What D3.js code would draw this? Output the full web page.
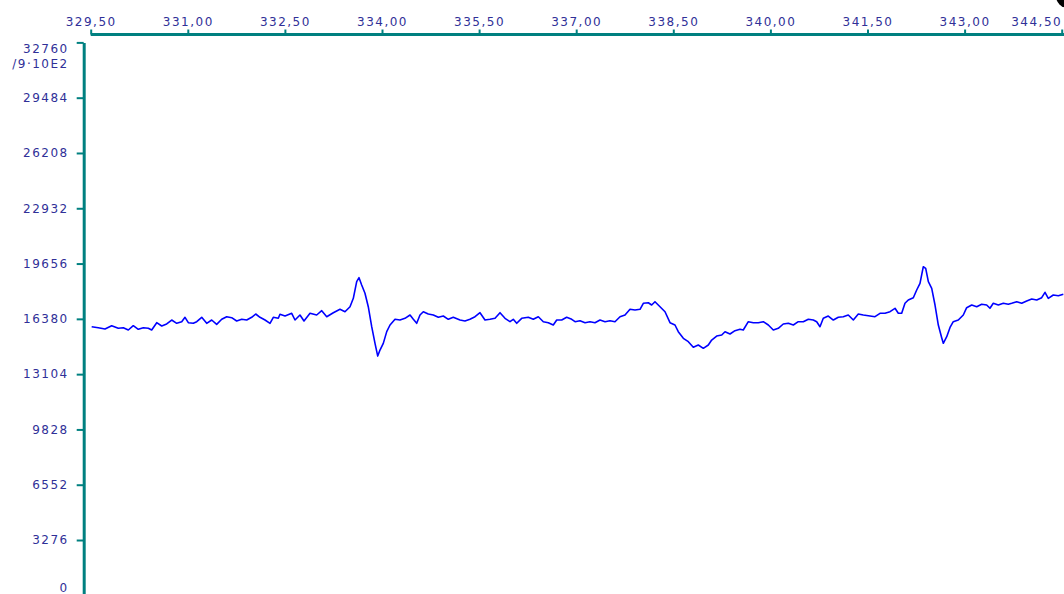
<!DOCTYPE html>
<html>
<head>
<meta charset="utf-8">
<script src="https://cdn.jsdelivr.net/npm/d3@7"></script>
<style>
  html, body { margin: 0; padding: 0; background: #fff; overflow: hidden; }
  text { font-family: "DejaVu Sans", Verdana, sans-serif; font-size: 12px; fill: #303098; letter-spacing: 1.5px; }
</style>
</head>
<body>
<svg id="chart" width="1064" height="594"></svg>
<script>
// magnetic field (top axis) and signal intensity
let field = [329.515,329.617,329.721,329.824,329.926,330.004,330.081,330.158,330.235,330.313,330.390,330.442,
  330.520,330.597,330.674,330.751,330.829,330.906,330.957,331.008,331.085,331.138,331.215,331.292,331.369,331.446,
  331.524,331.601,331.678,331.755,331.833,331.910,331.987,332.049,332.115,332.193,332.270,332.321,332.398,
  332.424,332.502,332.605,332.656,332.733,332.795,332.888,332.991,333.069,333.146,333.248,333.351,333.428,333.506,
  333.557,333.609,333.645,333.686,333.737,333.788,333.841,333.892,333.934,333.969,334.020,334.073,334.124,334.201,
  334.278,334.355,334.433,334.484,334.536,334.587,334.638,334.715,334.793,334.870,334.947,335.024,335.101,335.205,
  335.282,335.359,335.437,
  335.514,335.591,335.668,335.746,335.823,335.900,335.977,336.028,336.081,336.158,336.260,336.337,336.415,336.492,
  336.569,336.646,336.699,336.776,336.853,336.931,336.982,337.059,337.136,337.213,337.290,337.368,337.445,337.522,
  337.599,337.677,337.754,337.831,337.908,337.986,338.037,338.114,338.166,338.217,338.295,338.372,
  338.449,338.526,338.577,338.655,338.732,338.809,338.886,338.964,339.041,339.093,339.170,339.248,339.299,339.376,
  339.453,339.530,339.581,339.659,339.736,339.813,339.890,339.968,340.045,340.122,340.199,340.277,340.354,340.431,
  340.508,340.586,340.663,340.715,340.766,340.817,340.894,340.972,341.049,341.126,341.203,341.281,341.358,341.435,
  341.539,341.616,341.693,341.770,341.848,341.925,341.976,342.028,342.079,342.130,342.208,342.260,342.311,342.362,
  342.399,342.440,342.492,342.543,342.594,342.646,342.671,342.724,342.775,342.825,342.903,342.980,343.032,343.110,
  343.187,343.264,343.341,343.392,343.443,343.521,343.598,343.675,343.728,343.805,343.882,343.959,344.037,344.114,
  344.191,344.242,344.293,344.370,344.448,344.525]
let signal = [15915,15855,15778,15974,15820,15855,15719,15974,15761,15855,15820,15719,
  16152,15956,16075,16311,16116,16211,16471,16152,16116,16211,16471,16116,16311,16056,
  16353,16507,16448,16252,16353,16311,16471,16667,16471,16311,16116,16471,16412,
  16649,16548,16708,16311,16608,16252,16708,16608,16863,16507,16744,16945,16803,17100,
  17598,18581,18818,18386,17894,17100,15915,14926,14174,14529,14926,15624,16015,16353,
  16311,16412,16608,16353,16116,16608,16803,16667,16608,16471,16548,16353,16471,16311,
  16252,16353,16507,
  16744,16311,16353,16412,16744,16412,16211,16353,16116,16412,16471,16353,16507,16211,
  16152,16015,16311,16311,16471,16353,16211,16271,16152,16211,16152,16311,16211,16271,
  16211,16507,16608,16945,16904,16945,17300,17336,17200,17396,17100,16803,
  16152,16015,15618,15227,15026,14694,14830,14635,14830,15126,15363,15423,15618,15482,
  15678,15760,15719,16211,16152,16152,16211,16015,15719,15820,16075,16116,16015,16211,
  16211,16353,16311,16211,15915,16412,16548,16311,16471,16507,16608,16311,16667,16608,
  16548,16507,16708,16708,16803,17005,16708,16708,17301,17497,17633,18089,18486,19469,
  19375,18581,18190,17200,16015,15263,14931,15322,15873,16211,16311,16608,17041,17200,
  17100,17242,17200,17005,17301,17200,17301,17242,17301,17396,17301,17437,17556,17497,
  17633,17953,17598,17793,17752,17835]

let xTicks = [329.5, 331, 332.5, 334, 335.5, 337, 338.5, 340, 341.5, 343, 344.5]
let yTicks = [0, 3276, 6552, 9828, 13104, 16380, 19656, 22932, 26208, 29484, 32760]
let yUnit = "/9·10E2"

let width = 1064, height = 594
let teal = "#008080"
let svg = d3.select("#chart")

let x = d3.scaleLinear().domain([329.5, 344.5]).range([90.7, 1061.7])
let y = d3.scaleLinear().domain([0, 32760]).range([595.3, 42.4])

let comma = d3.formatLocale({decimal: ",", thousands: ".", grouping: [3], currency: ["", ""]}).format(".2f")

// top axis
let xAxisG = svg.append("g").attr("transform", "translate(0,34.5)")
xAxisG.append("line")
  .attr("x1", x(329.5)).attr("x2", width)
  .attr("stroke", teal).attr("stroke-width", 3)
xAxisG.call(d3.axisTop(x).tickValues(xTicks).tickFormat(comma).tickSize(5).tickPadding(3.5).tickSizeOuter(0))
xAxisG.select(".domain").remove()
xAxisG.selectAll(".tick line").attr("stroke", teal).attr("stroke-width", 2)
xAxisG.selectAll(".tick text").attr("fill", "#303098").attr("font-size", null).attr("font-family", null)
// last label is pulled inside the window
xAxisG.selectAll(".tick").filter(d => d === 344.5).select("text").attr("text-anchor", "end").attr("x", 0)

// left axis
let yAxisG = svg.append("g").attr("transform", "translate(83.7,0)")
yAxisG.call(d3.axisLeft(y).tickValues(yTicks).tickFormat(d3.format("d")).tickSize(7).tickPadding(8).tickSizeOuter(0))
yAxisG.select(".domain").attr("stroke", teal).attr("stroke-width", 3)
yAxisG.selectAll(".tick line").attr("stroke", teal).attr("stroke-width", 2)
yAxisG.selectAll(".tick text").attr("fill", "#303098").attr("font-size", null).attr("font-family", null)
yAxisG.selectAll(".tick").filter(d => d === 32760).select("text").attr("dy", "0.88em")
yAxisG.selectAll(".tick").filter(d => d === 0).select("text").attr("dy", "-0.32em")
yAxisG.append("text")
  .attr("x", -15).attr("y", 64.3).attr("dy", "0.32em")
  .attr("text-anchor", "end")
  .text(yUnit)

// trace
let pts = field.map((f, i) => [f, signal[i]])
svg.append("path")
  .datum(pts)
  .attr("fill", "none")
  .attr("stroke", "#0000ff")
  .attr("stroke-width", 1.6)
  .attr("stroke-linejoin", "round")
  .attr("d", d3.line().x(d => x(d[0])).y(d => y(d[1])))

// dark screen corner at top right
svg.append("circle").attr("cx", 1068).attr("cy", -4).attr("r", 12).attr("fill", "#000")
</script>
</body>
</html>
